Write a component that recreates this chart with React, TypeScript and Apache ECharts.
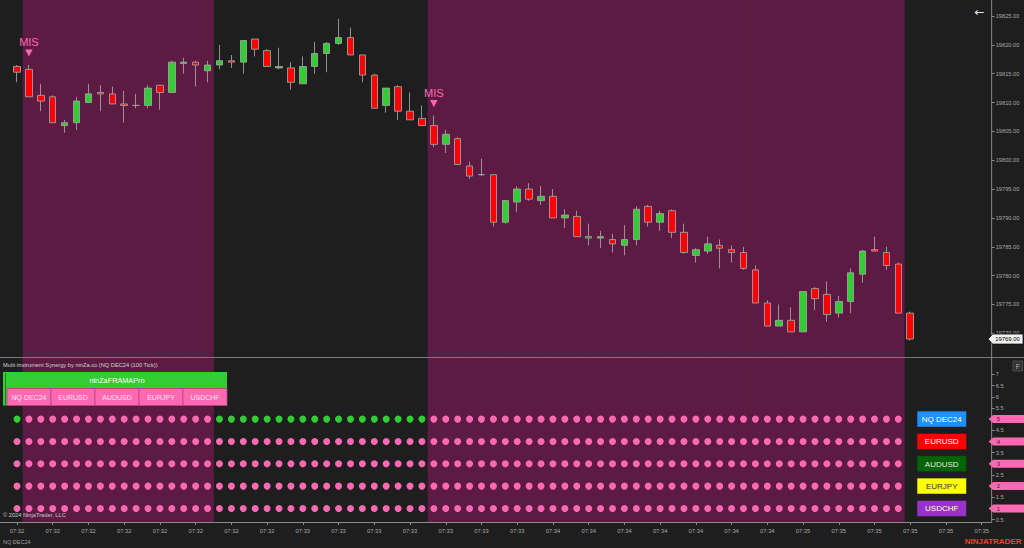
import { useEffect, useRef } from 'react';
import * as echarts from 'echarts';

// ---- price bars (NQ DEC24, 100 tick) ----
const openPrices = [
  19816.25, 19815.75, 19811.25, 19811.0, 19806.0, 19806.5, 19810.0, 19811.75, 19811.5, 19809.75,
  19809.5, 19809.5, 19813.0, 19811.75, 19816.75, 19817.0, 19815.5, 19816.5, 19817.25, 19817.0,
  19821.0, 19819.0, 19816.0, 19816.0, 19813.25, 19816.25, 19818.5, 19820.25, 19821.25, 19818.25,
  19814.75, 19809.5, 19812.75, 19808.5, 19807.25, 19806.0, 19802.75, 19803.75, 19799.0, 19797.5,
  19797.5, 19789.25, 19792.75, 19795.0, 19793.0, 19793.75, 19790.0, 19790.25, 19786.75, 19786.5,
  19786.25, 19785.25, 19786.25, 19792.0, 19789.25, 19791.25, 19787.5, 19783.5, 19784.25, 19785.25,
  19784.5, 19784.0, 19781.0, 19775.25, 19771.25, 19772.25, 19770.25, 19777.75, 19776.75, 19773.5,
  19775.5, 19780.25, 19784.5, 19784.0, 19782.0, 19773.5,
];
const closePrices = [
  19815.25, 19811.0, 19810.25, 19806.5, 19806.5, 19810.25, 19811.5, 19811.5, 19809.75, 19809.5,
  19809.5, 19812.5, 19811.75, 19817.0, 19817.0, 19816.5, 19816.5, 19817.25, 19817.0, 19820.75,
  19819.25, 19816.25, 19816.25, 19813.5, 19816.25, 19818.5, 19820.25, 19821.25, 19818.25, 19814.75,
  19809.0, 19812.5, 19808.5, 19807.0, 19806.0, 19802.75, 19804.5, 19799.25, 19797.25, 19797.5,
  19789.25, 19793.0, 19795.0, 19793.25, 19793.75, 19790.0, 19790.5, 19786.75, 19786.5, 19786.75,
  19785.5, 19786.25, 19791.5, 19789.25, 19790.75, 19787.5, 19784.0, 19784.5, 19785.5, 19784.75,
  19784.0, 19781.25, 19775.25, 19771.25, 19772.25, 19770.25, 19777.25, 19776.0, 19773.25, 19775.5,
  19780.5, 19784.25, 19784.25, 19781.75, 19773.5, 19769.0,
];
const lowPrices = [
  19813.5, 19811.0, 19808.5, 19806.5, 19804.75, 19805.25, 19810.0, 19808.5, 19809.75, 19806.5,
  19809.0, 19809.0, 19808.75, 19811.75, 19815.0, 19812.75, 19813.5, 19815.75, 19816.0, 19815.0,
  19818.0, 19816.25, 19815.75, 19812.25, 19813.25, 19815.0, 19815.25, 19820.0, 19818.25, 19813.5,
  19809.0, 19808.25, 19807.0, 19807.0, 19806.0, 19802.25, 19801.25, 19799.25, 19796.75, 19797.25,
  19788.5, 19789.0, 19791.0, 19793.0, 19792.25, 19790.0, 19788.25, 19786.75, 19785.25, 19784.75,
  19784.0, 19783.5, 19785.25, 19788.5, 19787.75, 19786.5, 19783.75, 19782.25, 19783.75, 19781.25,
  19782.25, 19781.0, 19775.25, 19771.25, 19771.25, 19770.25, 19770.25, 19774.0, 19772.0, 19772.75,
  19773.5, 19778.75, 19784.25, 19781.0, 19773.5, 19768.75,
];
const highPrices = [
  19816.5, 19816.5, 19813.25, 19811.25, 19807.0, 19811.0, 19813.25, 19813.0, 19812.75, 19812.0,
  19811.5, 19813.0, 19813.0, 19817.25, 19817.75, 19817.25, 19817.25, 19820.0, 19818.25, 19820.75,
  19821.0, 19819.25, 19819.5, 19817.0, 19818.0, 19820.5, 19820.5, 19824.5, 19823.0, 19818.25,
  19815.0, 19812.5, 19813.0, 19811.75, 19809.5, 19807.75, 19805.25, 19804.0, 19799.75, 19800.25,
  19797.5, 19793.0, 19795.5, 19796.0, 19795.5, 19795.0, 19791.5, 19791.25, 19789.0, 19787.75,
  19787.25, 19788.75, 19792.0, 19792.25, 19791.25, 19791.5, 19789.0, 19784.75, 19786.75, 19786.25,
  19785.25, 19785.0, 19781.75, 19775.75, 19775.0, 19774.5, 19777.25, 19778.0, 19779.0, 19776.5,
  19781.25, 19784.5, 19786.75, 19785.0, 19782.25, 19773.75,
];

// 1 = bearish (shaded) bar background
const shadedBars = [
  0,
  1, 1, 1, 1, 1, 1, 1, 1, 1, 1, 1, 1, 1, 1, 1, 1,
  0, 0, 0, 0, 0, 0, 0, 0, 0, 0, 0, 0, 0, 0, 0, 0, 0, 0,
  1, 1, 1, 1, 1, 1, 1, 1, 1, 1,
  1, 1, 1, 1, 1, 1, 1, 1, 1, 1,
  1, 1, 1, 1, 1, 1, 1, 1, 1, 1,
  1, 1, 1, 1, 1, 1, 1, 1, 1, 1,
  0,
];

const misBars = [1, 35];

// indicator panel: 1 = bullish (green dot), 0 = bearish (pink dot)
const instruments = ['NQ DEC24', 'EURUSD', 'AUDUSD', 'EURJPY', 'USDCHF'];
const instrumentRows = [5, 4, 3, 2, 1];
const nqSignal = [
  1,
  0, 0, 0, 0, 0, 0, 0, 0, 0, 0, 0, 0, 0, 0, 0, 0,
  1, 1, 1, 1, 1, 1, 1, 1, 1, 1, 1, 1, 1, 1, 1, 1, 1, 1,
  0, 0, 0, 0, 0, 0, 0, 0, 0, 0, 0, 0, 0, 0, 0, 0, 0, 0, 0, 0,
  0, 0, 0, 0, 0, 0, 0, 0, 0, 0, 0, 0, 0, 0, 0, 0, 0, 0, 0, 0,
];
const eurusdSignal = [
  0, 0, 0, 0, 0, 0, 0, 0, 0, 0, 0, 0, 0, 0, 0, 0, 0, 0, 0, 0, 0, 0, 0, 0, 0,
  0, 0, 0, 0, 0, 0, 0, 0, 0, 0, 0, 0, 0, 0, 0, 0, 0, 0, 0, 0, 0, 0, 0, 0, 0,
  0, 0, 0, 0, 0, 0, 0, 0, 0, 0, 0, 0, 0, 0, 0, 0, 0, 0, 0, 0, 0, 0, 0, 0, 0,
];
const audusdSignal = [
  0, 0, 0, 0, 0, 0, 0, 0, 0, 0, 0, 0, 0, 0, 0, 0, 0, 0, 0, 0, 0, 0, 0, 0, 0,
  0, 0, 0, 0, 0, 0, 0, 0, 0, 0, 0, 0, 0, 0, 0, 0, 0, 0, 0, 0, 0, 0, 0, 0, 0,
  0, 0, 0, 0, 0, 0, 0, 0, 0, 0, 0, 0, 0, 0, 0, 0, 0, 0, 0, 0, 0, 0, 0, 0, 0,
];
const eurjpySignal = [
  0, 0, 0, 0, 0, 0, 0, 0, 0, 0, 0, 0, 0, 0, 0, 0, 0, 0, 0, 0, 0, 0, 0, 0, 0,
  0, 0, 0, 0, 0, 0, 0, 0, 0, 0, 0, 0, 0, 0, 0, 0, 0, 0, 0, 0, 0, 0, 0, 0, 0,
  0, 0, 0, 0, 0, 0, 0, 0, 0, 0, 0, 0, 0, 0, 0, 0, 0, 0, 0, 0, 0, 0, 0, 0, 0,
];
const usdchfSignal = [
  0, 0, 0, 0, 0, 0, 0, 0, 0, 0, 0, 0, 0, 0, 0, 0, 0, 0, 0, 0, 0, 0, 0, 0, 0,
  0, 0, 0, 0, 0, 0, 0, 0, 0, 0, 0, 0, 0, 0, 0, 0, 0, 0, 0, 0, 0, 0, 0, 0, 0,
  0, 0, 0, 0, 0, 0, 0, 0, 0, 0, 0, 0, 0, 0, 0, 0, 0, 0, 0, 0, 0, 0, 0, 0, 0,
];
const signals = [nqSignal, eurusdSignal, audusdSignal, eurjpySignal, usdchfSignal];

// time axis labels (one every 3 slots)
const timeTicks = [
  '07:32', '07:32', '07:32', '07:32', '07:32', '07:32', '07:32', '07:32',
  '07:33', '07:33', '07:33', '07:33', '07:33', '07:33', '07:33',
  '07:34', '07:34', '07:34', '07:34', '07:34', '07:34', '07:34',
  '07:35', '07:35', '07:35', '07:35', '07:35', '07:35',
];
const slotCount = 82;

export default function App() {
  const ref = useRef<HTMLDivElement>(null);

  useEffect(() => {
    const el = ref.current!;
    const chart = echarts.init(el, null, { renderer: 'svg' });
    const FONT = '"Liberation Sans", Arial, sans-serif';
    const BG = '#1e1e1e';
    const PURPLE = '#5d1b43';
    const PINK = '#ff69b4';
    const GREEN = '#32cd32';
    const LABEL = '#a8a8a8';
    const gridLeft = 11.05;
    const gridW = 976.6;
    const gridRight = 1024 - gridLeft - gridW;
    const slots = Array.from({ length: slotCount }, (_, i) => String(i));

    const candleData = openPrices.map((o, i) => [o, closePrices[i], lowPrices[i], highPrices[i]]);

    const dotSeries = signals.map((sig, k) => ({
      type: 'scatter',
      xAxisIndex: 1,
      yAxisIndex: 1,
      symbolSize: 7,
      z: 3,
      silent: true,
      itemStyle: { opacity: 1 },
      data: sig.map((s, i) => ({
        value: [i, instrumentRows[k]],
        itemStyle: { color: s ? GREEN : PINK, opacity: 1 },
      })),
    }));

    const option: any = {
      animation: false,
      backgroundColor: BG,
      grid: [
        { left: gridLeft, right: gridRight, top: 0, height: 333.3 },
        { left: gridLeft, right: gridRight, top: 363.3, height: 156.3 },
        { left: gridLeft, right: gridRight, top: 0, height: 522 },
      ],
      xAxis: [
        { gridIndex: 0, type: 'category', data: slots, show: false },
        { gridIndex: 1, type: 'category', data: slots, show: false },
        {
          gridIndex: 2,
          type: 'category',
          data: slots,
          axisLine: { show: false },
          axisTick: {
            show: true,
            interval: 2,
            alignWithLabel: true,
            length: 3,
            lineStyle: { color: '#8a8a8a' },
          },
          axisLabel: {
            interval: 2,
            color: LABEL,
            fontSize: 5.8,
            fontFamily: FONT,
            margin: 6,
            formatter: (_v: string, idx: number) => timeTicks[idx / 3] ?? '',
          },
          splitLine: { show: false },
        },
      ],
      yAxis: [
        {
          gridIndex: 0,
          type: 'value',
          position: 'right',
          offset: 4,
          min: 19770,
          max: 19827.77,
          interval: 5,
          axisLine: { show: false },
          axisTick: { show: true, length: 3, lineStyle: { color: '#8a8a8a' } },
          splitLine: { show: false },
          axisLabel: {
            color: LABEL,
            fontSize: 5.7,
            fontFamily: FONT,
            margin: 4,
            showMaxLabel: false,
            formatter: (v: number) => v.toFixed(2),
          },
        },
        {
          gridIndex: 1,
          type: 'value',
          position: 'right',
          offset: 4,
          min: 0.5,
          max: 7.5,
          interval: 0.5,
          axisLine: { show: false },
          axisTick: { show: true, length: 3, lineStyle: { color: '#8a8a8a' } },
          splitLine: { show: false },
          axisLabel: {
            color: LABEL,
            fontSize: 5.7,
            fontFamily: FONT,
            margin: 4,
            showMaxLabel: false,
            formatter: (v: number) =>
              Number.isInteger(v) && instrumentRows.includes(v) ? '' : String(v),
          },
        },
        { gridIndex: 2, type: 'value', min: 0, max: 1, show: false },
      ],
      series: [
        {
          type: 'bar',
          xAxisIndex: 2,
          yAxisIndex: 2,
          data: shadedBars,
          barWidth: 12.6,
          itemStyle: { color: PURPLE },
          z: 0,
          silent: true,
        },
        {
          type: 'candlestick',
          xAxisIndex: 0,
          yAxisIndex: 0,
          data: candleData,
          barWidth: 7,
          clip: false,
          silent: true,
          z: 3,
          itemStyle: {
            color: GREEN,
            color0: '#ff0000',
            borderColor: 'rgba(165,165,165,0.85)',
            borderColor0: 'rgba(165,165,165,0.85)',
            borderColorDoji: 'rgba(165,165,165,0.85)',
            borderWidth: 1,
          },
        },
        {
          type: 'scatter',
          xAxisIndex: 0,
          yAxisIndex: 0,
          data: misBars.map((i) => [i, highPrices[i]]),
          symbol: 'path://M0,0L10,0L5,9Z',
          symbolSize: [7.5, 7],
          symbolOffset: [0, -12],
          itemStyle: { color: PINK, opacity: 1 },
          clip: false,
          silent: true,
          z: 4,
          label: {
            show: true,
            position: 'top',
            distance: 2,
            formatter: 'MIS',
            color: PINK,
            fontSize: 11,
            fontFamily: FONT,
          },
        },
        ...dotSeries,
      ],
    };

    chart.setOption(option);

    const yOf = (axis: number, v: number) =>
      chart.convertToPixel({ yAxisIndex: axis } as any, v) as number;
    const axisX = gridLeft + gridW + 4;

    const txt = (
      text: string,
      x: number,
      y: number,
      size: number,
      fill: string,
      align = 'left',
      extra: any = {}
    ) => ({
      type: 'text',
      x,
      y,
      z: 100,
      silent: true,
      style: {
        text,
        fill,
        fontSize: size,
        fontFamily: FONT,
        align,
        verticalAlign: 'middle',
        textAlign: align,
        textVerticalAlign: 'middle',
        ...extra,
      },
    });

    const g: any[] = [];
    // panel separator & axis lines
    g.push({ type: 'line', z: 100, silent: true, shape: { x1: 0, y1: 357.5, x2: 1024, y2: 357.5 }, style: { stroke: '#7a7a7a', lineWidth: 1 } });
    g.push({ type: 'line', z: 100, silent: true, shape: { x1: axisX, y1: 0, x2: axisX, y2: 522.5 }, style: { stroke: '#8a8a8a', lineWidth: 1 } });
    g.push({ type: 'line', z: 100, silent: true, shape: { x1: 0, y1: 522.5, x2: axisX, y2: 522.5 }, style: { stroke: '#8a8a8a', lineWidth: 1 } });

    // indicator title
    g.push(txt('Multi-Instrument Synergy by ninZa.co (NQ DEC24 (100 Tick))', 3, 365, 5.7, '#d0d0d0'));

    // header: ninZaFRAMAPro bar and instrument tabs
    g.push({ type: 'rect', z: 100, silent: true, shape: { x: 3, y: 372, width: 4, height: 33.5 }, style: { fill: GREEN } });
    g.push({ type: 'line', z: 101, silent: true, shape: { x1: 5.5, y1: 373, x2: 5.5, y2: 405 }, style: { stroke: '#1a6e1a', lineWidth: 0.8 } });
    g.push({ type: 'rect', z: 100, silent: true, shape: { x: 7, y: 372, width: 220, height: 16.5 }, style: { fill: GREEN } });
    g.push(txt('ninZaFRAMAPro', 117, 380.3, 7.3, '#ffffff', 'center'));
    const tabW = 44;
    instruments.forEach((name, k) => {
      const x = 7 + k * tabW;
      g.push({ type: 'rect', z: 100, silent: true, shape: { x, y: 388.5, width: tabW, height: 17 }, style: { fill: PINK, stroke: '#b8447e', lineWidth: 0.8 } });
      g.push(txt(name, x + tabW / 2, 397.2, 7, '#fbe6f1', 'center'));
    });

    // legend boxes on the right
    const boxFill = ['#1e90ff', '#ff0000', '#006400', '#ffff00', '#9932cc'];
    const boxText = ['#ffffff', '#ffffff', '#e6e6e6', '#333333', '#ffffff'];
    instruments.forEach((name, k) => {
      const y = yOf(1, instrumentRows[k]);
      g.push({ type: 'rect', z: 100, silent: true, shape: { x: 917, y: y - 8, width: 49.5, height: 16 }, style: { fill: boxFill[k], stroke: '#222', lineWidth: 0.6 } });
      g.push(txt(name, 941.7, y + 0.3, 8, boxText[k], 'center'));
    });

    // value flags on indicator axis
    instrumentRows.forEach((r) => {
      const y = yOf(1, r);
      g.push({
        type: 'polygon',
        z: 100,
        silent: true,
        shape: { points: [[axisX - 3, y], [axisX + 1.5, y - 4], [1024, y - 4], [1024, y + 4], [axisX + 1.5, y + 4]] },
        style: { fill: PINK },
      });
      g.push(txt(String(r), axisX + 5, y + 0.3, 6, '#2a2a2a'));
    });

    // last price tag
    const last = closePrices[closePrices.length - 1];
    const py = yOf(0, last);
    g.push({
      type: 'polygon',
      z: 100,
      silent: true,
      shape: { points: [[axisX - 3.5, py], [axisX + 1, py - 5], [1023, py - 5], [1023, py + 5], [axisX + 1, py + 5]] },
      style: { fill: '#f2f2f2', stroke: '#111', lineWidth: 0.8 },
    });
    g.push(txt(last.toFixed(2), axisX + 3.5, py + 0.3, 5.9, '#000000'));

    // "F" button
    g.push({ type: 'rect', z: 100, silent: true, shape: { x: 1013, y: 361, width: 9.5, height: 10 }, style: { fill: '#333333', stroke: '#555555', lineWidth: 0.8 } });
    g.push(txt('F', 1017.8, 366.2, 7, '#b0b0b0', 'center'));

    // back arrow
    g.push(txt('←', 979.5, 11.5, 12, '#e6e6e6', 'center', { fontFamily: '"DejaVu Sans", sans-serif' }));

    // footer texts
    g.push(txt('© 2024 NinjaTrader, LLC', 3, 515, 5.7, '#c8c8c8'));
    g.push(txt('NQ DEC24', 3, 542, 5.5, '#a0a0a0'));
    g.push(txt('NINJATRADER', 1021.5, 541.5, 8, '#e8452a', 'right', { fontWeight: 'bold' }));

    chart.setOption({ graphic: g });

    return () => chart.dispose();
  }, []);

  return (
    <div
      ref={ref}
      style={{ position: 'fixed', left: 0, top: 0, width: 1024, height: 548 }}
    />
  );
}
